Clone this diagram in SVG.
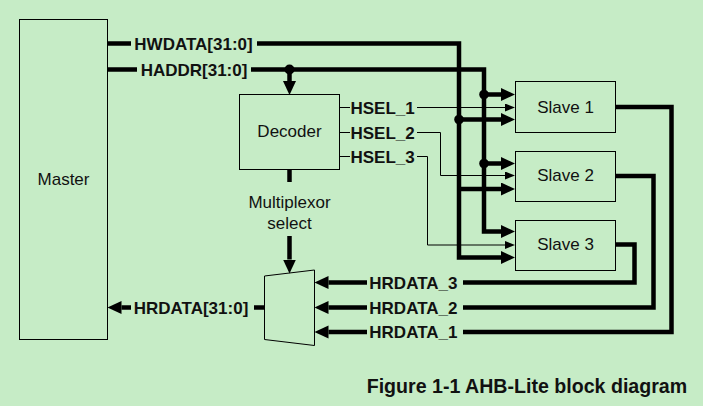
<svg xmlns="http://www.w3.org/2000/svg" width="703" height="406" viewBox="0 0 703 406">
  <style>
    .box { fill: none; stroke: #000; stroke-width: 1; }
    .bus { fill: none; stroke: #000; stroke-width: 4.5; stroke-linejoin: miter; }
    .sig { fill: none; stroke: #000; stroke-width: 1; }
    .dot { fill: #000; }
    .lbl { font-family: "Liberation Sans", Arial, sans-serif; font-size: 17px; fill: #111; }
    .bold { font-weight: bold; }
    .mid { text-anchor: middle; }
    .cap { font-family: "Liberation Sans", Arial, sans-serif; font-size: 19.6px; font-weight: bold; fill: #111; }
  </style>
  <defs>
    <marker id="bigArrow" markerUnits="userSpaceOnUse" markerWidth="14" markerHeight="14" refX="0" refY="6.5" orient="auto">
      <path d="M0,0 L14,6.5 L0,13 z" fill="#000"/>
    </marker>
    <marker id="thinArrow" markerUnits="userSpaceOnUse" markerWidth="10" markerHeight="9" refX="0" refY="4" orient="auto">
      <path d="M0,0 L10,4 L0,8 z" fill="#000"/>
    </marker>
  </defs>

  <rect width="703" height="406" fill="#c6ecc6"/>

  <g id="master">
    <rect class="box" x="19.5" y="19.5" width="88" height="320"/>
    <text class="lbl mid" x="63.5" y="185">Master</text>
  </g>

  <g id="decoder">
    <rect class="box" x="239.5" y="94.5" width="100" height="75"/>
    <text class="lbl mid" x="289.5" y="137">Decoder</text>
  </g>

  <g id="slave1">
    <rect class="box" x="515.5" y="81.5" width="100" height="51"/>
    <text class="lbl mid" x="565.5" y="112.5">Slave 1</text>
  </g>

  <g id="slave2">
    <rect class="box" x="515.5" y="151.5" width="100" height="50"/>
    <text class="lbl mid" x="565.5" y="181">Slave 2</text>
  </g>

  <g id="slave3">
    <rect class="box" x="515.5" y="220.5" width="100" height="50"/>
    <text class="lbl mid" x="565.5" y="250">Slave 3</text>
  </g>

  <g id="mux">
    <polygon class="box" points="264.5,276 314.5,270 314.5,345.5 264.5,339.5"/>
  </g>

  <g id="connectors">
    <!-- HWDATA bus to every slave -->
    <path class="bus" d="M107.5,43.5 H131"/>
    <path class="bus" d="M257,43.5 H459 V257.5 H501" marker-end="url(#bigArrow)"/>
    <path class="bus" d="M459,119.5 H501" marker-end="url(#bigArrow)"/>
    <path class="bus" d="M459,189 H501" marker-end="url(#bigArrow)"/>
    <circle class="dot" cx="459" cy="119.5" r="4.8"/>

    <!-- HADDR bus to decoder and every slave -->
    <path class="bus" d="M107.5,69.5 H137"/>
    <path class="bus" d="M251,69.5 H484 V231.5 H501" marker-end="url(#bigArrow)"/>
    <path class="bus" d="M484,94.5 H501" marker-end="url(#bigArrow)"/>
    <path class="bus" d="M484,163.5 H501" marker-end="url(#bigArrow)"/>
    <circle class="dot" cx="484" cy="94.5" r="4.8"/>
    <circle class="dot" cx="484" cy="163.5" r="4.8"/>
    <path class="bus" d="M289.5,69.5 V81" marker-end="url(#bigArrow)"/>
    <circle class="dot" cx="289.5" cy="69.5" r="5"/>

    <!-- slave selects -->
    <path class="sig" d="M339.5,107.5 H350"/>
    <path class="sig" d="M417,107.5 H505" marker-end="url(#thinArrow)"/>
    <path class="sig" d="M339.5,132.5 H350"/>
    <path class="sig" d="M417,132.5 H440.5 V175.5 H505" marker-end="url(#thinArrow)"/>
    <path class="sig" d="M339.5,156.5 H350"/>
    <path class="sig" d="M417,156.5 H427.5 V245 H505" marker-end="url(#thinArrow)"/>

    <!-- multiplexor select -->
    <path class="bus" d="M289.5,169.5 V182"/>
    <path class="bus" d="M289.5,236 V259.5" marker-end="url(#bigArrow)"/>

    <!-- read data returns -->
    <path class="bus" d="M615.5,107 H671.5 V332 H463"/>
    <path class="bus" d="M367,332 H328.5" marker-end="url(#bigArrow)"/>
    <path class="bus" d="M615.5,176 H653.5 V307.5 H463"/>
    <path class="bus" d="M367,307.5 H328.5" marker-end="url(#bigArrow)"/>
    <path class="bus" d="M615.5,244.5 H634.5 V282.5 H463"/>
    <path class="bus" d="M367,282.5 H328.5" marker-end="url(#bigArrow)"/>

    <!-- multiplexed read data back to master -->
    <path class="bus" d="M264.5,307.5 H254"/>
    <path class="bus" d="M131,307.5 H121.5" marker-end="url(#bigArrow)"/>
  </g>

  <g id="labels">
    <text class="lbl bold mid" x="193.5" y="49.7">HWDATA[31:0]</text>
    <text class="lbl bold mid" x="194" y="75.7">HADDR[31:0]</text>
    <text class="lbl bold" x="350.5" y="113.5">HSEL_1</text>
    <text class="lbl bold" x="350.5" y="138.5">HSEL_2</text>
    <text class="lbl bold" x="350.5" y="162.5">HSEL_3</text>
    <text class="lbl mid" x="289.5" y="208">Multiplexor</text>
    <text class="lbl mid" x="289.5" y="229">select</text>
    <text class="lbl bold" x="369.3" y="288.5">HRDATA_3</text>
    <text class="lbl bold" x="369.3" y="313.5">HRDATA_2</text>
    <text class="lbl bold" x="369.3" y="338">HRDATA_1</text>
    <text class="lbl bold mid" x="191" y="313.7">HRDATA[31:0]</text>
    <text class="cap" x="366.7" y="393.3">Figure 1-1 AHB-Lite block diagram</text>
  </g>
</svg>
